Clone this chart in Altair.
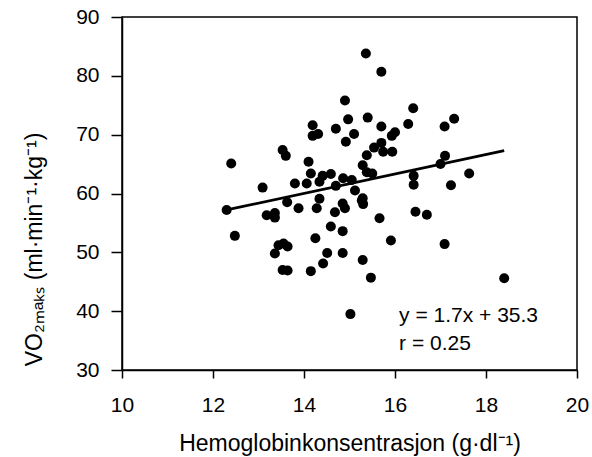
import altair as alt
import pandas as pd

hb = [14.90, 14.97, 14.19, 14.19, 14.31, 14.70, 14.92, 13.53, 13.60, 12.40,
      14.10, 14.15, 14.41, 14.59, 14.86, 13.80, 14.06, 14.34, 13.09, 14.70,
      14.34, 15.36, 15.70, 15.40, 16.40, 16.29, 15.70, 17.09, 17.30, 15.10,
      15.93, 16.00, 15.54, 15.70, 15.74, 15.94, 15.38, 15.29, 15.38, 15.50,
      17.10, 17.00, 16.41, 16.41, 17.63, 17.23, 15.05, 15.12, 15.29, 12.30,
      12.48, 13.18, 13.36, 13.36, 13.63, 13.88, 14.28, 14.85, 14.90, 14.68,
      14.59, 14.85, 14.25, 13.44, 13.55, 13.64, 13.36, 14.51, 14.85, 14.42,
      13.53, 13.64, 14.15, 15.02, 15.27, 15.30, 15.66, 16.45, 16.70, 15.91,
      17.09, 15.29, 15.47, 18.40]
vo2 = [75.8, 72.6, 71.6, 69.8, 70.1, 71.0, 68.8, 67.4, 66.4, 65.1,
       65.4, 63.4, 63.0, 63.3, 62.6, 61.7, 61.7, 62.0, 61.0, 61.3,
       59.1, 83.8, 80.7, 72.9, 74.5, 71.8, 71.4, 71.4, 72.7, 70.1,
       69.8, 70.4, 67.8, 68.6, 67.1, 67.1, 66.5, 64.8, 63.6, 63.4,
       66.4, 65.0, 63.0, 61.5, 63.4, 61.4, 62.3, 60.5, 59.2, 57.2,
       52.8, 56.3, 56.7, 55.9, 58.5, 57.5, 57.5, 58.3, 57.5, 56.8,
       54.4, 53.6, 52.4, 51.2, 51.5, 51.0, 49.8, 49.9, 49.9, 48.1,
       47.0, 46.9, 46.8, 39.5, 58.8, 58.2, 55.8, 56.9, 56.4, 52.0,
       51.4, 48.7, 45.7, 45.6]

line_x = [12.3, 18.4]
line_y = [57.2, 67.3]

ann_text = ["y = 1.7x + 35.3", "r  = 0.25"]
ann_x = [16.09, 16.09]
ann_y = [38.15, 33.4]

x_ticks = [10, 12, 14, 16, 18, 20]
y_ticks = [30, 40, 50, 60, 70, 80, 90]

pts = pd.DataFrame({"hb": hb, "vo2": vo2})
ln = pd.DataFrame({"hb": line_x, "vo2": line_y})
ann = pd.DataFrame({"hb": ann_x, "vo2": ann_y, "t": ann_text})

FONT = "Liberation Sans"

xs = alt.Scale(domain=[10, 20], nice=False, zero=False)
ys = alt.Scale(domain=[30, 90], nice=False, zero=False)

xax = alt.Axis(values=x_ticks, title="Hemoglobinkonsentrasjon (g·dl⁻¹)", tickSize=8,
               labelPadding=16, titlePadding=17, labelFlush=False)
yax = alt.Axis(values=y_ticks, title="VO₂ₘₐₖₛ (ml·min⁻¹·kg⁻¹)", tickSize=11,
               labelPadding=12, titleY=232, titleX=-76, labelFlush=False)

points = alt.Chart(pts).mark_circle(size=100, color="black", opacity=1).encode(
    x=alt.X("hb:Q", scale=xs, axis=xax),
    y=alt.Y("vo2:Q", scale=ys, axis=yax),
)

reg = alt.Chart(ln).mark_line(color="black", strokeWidth=2.8).encode(
    x=alt.X("hb:Q", scale=xs),
    y=alt.Y("vo2:Q", scale=ys),
)

txt = alt.Chart(ann).mark_text(align="left", baseline="alphabetic", font=FONT,
                               fontSize=21, color="black").encode(
    x=alt.X("hb:Q", scale=xs),
    y=alt.Y("vo2:Q", scale=ys),
    text="t:N",
)

chart = alt.layer(points, reg, txt).properties(
    width=455, height=353,
    autosize=alt.AutoSizeParams(type="none"),
    padding={"left": 122, "top": 17, "right": 15, "bottom": 87},
).configure_view(
    stroke="black", strokeWidth=1.5
).configure_axis(
    grid=False,
    domainColor="black", domainWidth=1.5,
    tickColor="black", tickWidth=1.5,
    labelFont=FONT, labelFontSize=21, labelColor="black",
    titleFont=FONT, titleFontSize=23, titleFontWeight="normal", titleColor="black",
)

chart.save("out.html", embed_options={"renderer": "svg", "actions": False})
